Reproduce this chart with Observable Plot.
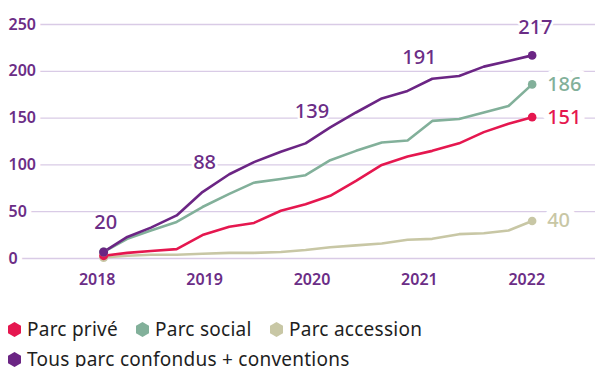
<!DOCTYPE html>
<html><head><meta charset="utf-8">
<script src="https://cdn.jsdelivr.net/npm/d3@7"></script>
<script src="https://cdn.jsdelivr.net/npm/@observablehq/plot@0.6"></script>
<style>
body{margin:0;background:#fff;font-family:"Noto Sans",sans-serif;}
#chart{width:598px;height:367px;position:relative;overflow:hidden;}
#legend{position:absolute;left:0;top:305px;width:598px;height:62px;font-size:19px;letter-spacing:0.25px;color:#1e1e1e;}
.item{position:absolute;display:flex;align-items:center;height:30px;white-space:nowrap;}
.item svg{margin-right:6px;flex:none;}
</style></head><body><div id="chart"></div>
<script>
// ---- data ----
const dates = [2018.06, 2018.28, 2018.50, 2018.74, 2018.98, 2019.23, 2019.46, 2019.71, 2019.94,
               2020.17, 2020.41, 2020.65, 2020.89, 2021.12, 2021.37, 2021.60, 2021.83, 2022.05];
const tous      = [7, 23, 33, 46, 71, 90, 103, 114, 123, 140, 156, 171, 179, 192, 195, 205, 211, 217];
const social    = [7, 21, 30, 39, 55, 69, 81, 85, 89, 105, 115, 124, 126, 147, 149, 156, 163, 186];
const prive     = [3, 6, 8, 10, 25, 34, 38, 51, 58, 67, 83, 100, 109, 115, 123, 135, 144, 151];
const accession = [1, 3, 4, 4, 5, 6, 6, 7, 9, 12, 14, 16, 20, 21, 26, 27, 30, 40];

const seriesNames  = ["Parc accession", "Parc privé", "Parc social", "Tous parc confondus + conventions"];
const seriesColors = ["#c8c7a5", "#e5174f", "#82b09a", "#6b2584"];
const seriesValues = [accession, prive, social, tous];

const annualLabels = [20, 88, 139, 191, 217];
const annualDates  = [2018.08, 2019, 2020, 2021, 2022.08];

const yTicks = [0, 50, 100, 150, 200, 250];
const xTicks = [2018, 2019, 2020, 2021, 2022];

const legendOrder = ["Parc privé", "Parc social", "Parc accession", "Tous parc confondus + conventions"];

// ---- tables ----
const rows = seriesNames.flatMap((s, k) => dates.map((d, i) => ({series: s, date: d, value: seriesValues[k][i]})));
const firstRows = seriesNames.map((s, k) => ({series: s, date: dates[0], value: seriesValues[k][0]}));
const lastRows = seriesNames.map((s, k) => ({series: s, date: dates[dates.length - 1], value: seriesValues[k][dates.length - 1]}));
const endLabelRows = lastRows.filter(r => r.series !== "Tous parc confondus + conventions");

function interp(xs, ys, x) {
  if (x <= xs[0]) return ys[0];
  for (let i = 1; i < xs.length; i++) {
    if (x <= xs[i]) { const t = (x - xs[i-1]) / (xs[i] - xs[i-1]); return ys[i-1] + t * (ys[i] - ys[i-1]); }
  }
  return ys[ys.length - 1];
}
const annualRows = annualLabels.map((v, i) => ({label: v, date: annualDates[i], y: interp(dates, tous, annualDates[i])}));

const purple = "#6b2d86";
const chart = Plot.plot({
  width: 598, height: 305,
  marginLeft: 8, marginRight: 3, marginTop: 24, marginBottom: 47,
  x: {domain: [2017.174, 2022.640], axis: null},
  y: {domain: [0, 250], axis: null},
  color: {domain: seriesNames, range: seriesColors},
  style: {fontFamily: "Noto Sans, sans-serif", background: "white", overflow: "visible"},
  marks: [
    Plot.ruleY(yTicks, {stroke: "#d9cbe6", strokeWidth: 1.3}),
    Plot.text(yTicks, {y: d => d, text: d => String(d), frameAnchor: "left", textAnchor: "start",
      fill: purple, fontSize: 16, fontWeight: 600, stroke: "white", strokeWidth: 10}),
    Plot.text(xTicks, {x: d => d, text: d => String(d), frameAnchor: "bottom", dy: 26,
      fill: purple, fontSize: 16, fontWeight: 600}),
    Plot.line(rows, {x: "date", y: "value", z: "series", stroke: "series", strokeWidth: 2.6,
      strokeLinejoin: "round", strokeLinecap: "round"}),
    Plot.dot(firstRows, {x: "date", y: "value", fill: "series", r: 4.5}),
    Plot.dot(lastRows, {x: "date", y: "value", fill: "series", r: 4.3}),
    Plot.text(annualRows, {x: "date", y: "y", text: d => String(d.label), dy: -28,
      fill: purple, fontSize: 20, fontWeight: 500, stroke: "white", strokeWidth: 5}),
    Plot.text(endLabelRows, {x: "date", y: "value", text: d => String(d.value), dx: 15, textAnchor: "start",
      fill: "series", fontSize: 20, fontWeight: 500, stroke: "white", strokeWidth: 14})
  ]
});
document.getElementById("chart").appendChild(chart);

// ---- legend (HTML below the SVG) ----
const legend = document.createElement("div");
legend.id = "legend";
const positions = [[8, 9], [136, 9], [270, 9], [8, 39]];
legendOrder.forEach((name, i) => {
  const col = seriesColors[seriesNames.indexOf(name)];
  const item = document.createElement("div");
  item.className = "item";
  item.style.left = positions[i][0] + "px";
  item.style.top = positions[i][1] + "px";
  item.innerHTML = `<svg width="13" height="15" viewBox="0 0 13 15"><polygon points="6.5,0 13,3.75 13,11.25 6.5,15 0,11.25 0,3.75" fill="${col}"/></svg><span>${name}</span>`;
  legend.appendChild(item);
});
document.getElementById("chart").appendChild(legend);
</script></body></html>
